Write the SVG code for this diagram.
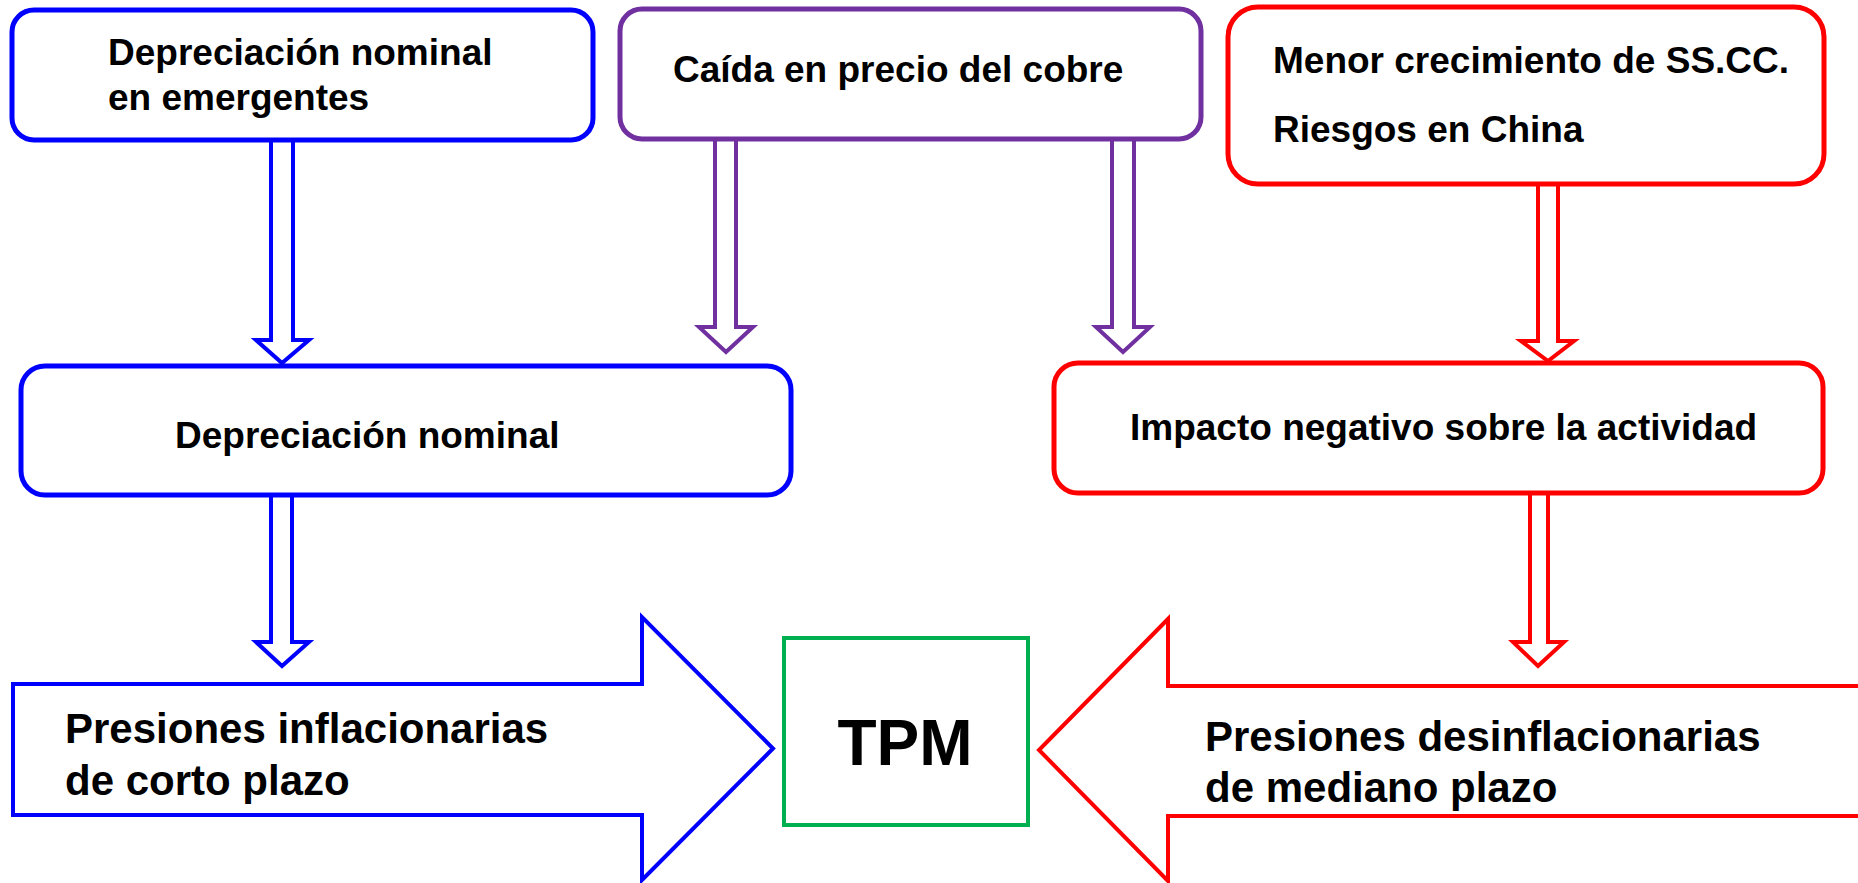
<svg xmlns="http://www.w3.org/2000/svg" width="1858" height="883" viewBox="0 0 1858 883">
<style>
.t{font-family:"Liberation Sans",Arial,sans-serif;font-weight:bold;fill:#000}
.s37{font-size:37px}
.s42{font-size:42px}
.box{fill:#fff;stroke-width:5}
.arr{fill:#fff;stroke-width:4;stroke-linejoin:miter}
.blue{stroke:#0000FF}
.purple{stroke:#7030A0}
.red{stroke:#FF0000}
.green{stroke:#00B050}
</style>
<rect width="1858" height="883" fill="#fff"/>
<g id="connectors">
<path class="arr blue" d="M271,140 V340 H256 L282,363 L309,340 H293 V140"/>
<path class="arr blue" d="M271,495 V642 H256 L282,666 L309,642 H292 V495"/>
<path class="arr purple" d="M715,140 V327 H699 L726,352 L753,327 H736 V140"/>
<path class="arr purple" d="M1112,140 V327 H1096 L1123,352 L1150,327 H1134 V140"/>
<path class="arr red" d="M1538,184 V341 H1521 L1548,361 L1574,341 H1558 V184"/>
<path class="arr red" d="M1530,493 V642 H1513 L1538,666 L1564,642 H1548 V493"/>
</g>
<g id="node-dep-emergentes">
<rect class="box blue" x="12" y="10" width="581" height="130" rx="22"/>
<text class="t s37" x="108" y="65">Depreciación nominal</text>
<text class="t s37" x="108" y="110">en emergentes</text>
</g>
<g id="node-cobre">
<rect class="box purple" x="620" y="9" width="581" height="130" rx="22"/>
<text class="t s37" x="673" y="82">Caída en precio del cobre</text>
</g>
<g id="node-china">
<rect class="box red" x="1228" y="7" width="596" height="177" rx="30"/>
<text class="t s37" x="1273" y="73">Menor crecimiento de SS.CC.</text>
<text class="t s37" x="1273" y="142">Riesgos en China</text>
</g>
<g id="node-dep-nominal">
<rect class="box blue" x="21" y="366" width="770" height="129" rx="24"/>
<text class="t s37" x="175" y="448">Depreciación nominal</text>
</g>
<g id="node-impacto">
<rect class="box red" x="1054" y="363" width="769" height="130" rx="24"/>
<text class="t s37" x="1130" y="440">Impacto negativo sobre la actividad</text>
</g>
<g id="node-inflacionarias">
<path class="arr blue" d="M13,684 H642 V617 L773,748.5 L642,880 V815 H13 Z"/>
<text class="t s42" x="65" y="743">Presiones inflacionarias</text>
<text class="t s42" x="65" y="795">de corto plazo</text>
</g>
<g id="node-tpm">
<rect x="784" y="638" width="244" height="187" fill="#fff" stroke="#00B050" stroke-width="4"/>
<text class="t" x="905" y="765" font-size="64" text-anchor="middle">TPM</text>
</g>
<g id="node-desinflacionarias">
<path class="arr red" d="M1875,686 H1168 V619 L1039,750 L1168,881 V816 H1875"/>
<text class="t s42" x="1205" y="751">Presiones desinflacionarias</text>
<text class="t s42" x="1205" y="802">de mediano plazo</text>
</g>
</svg>
